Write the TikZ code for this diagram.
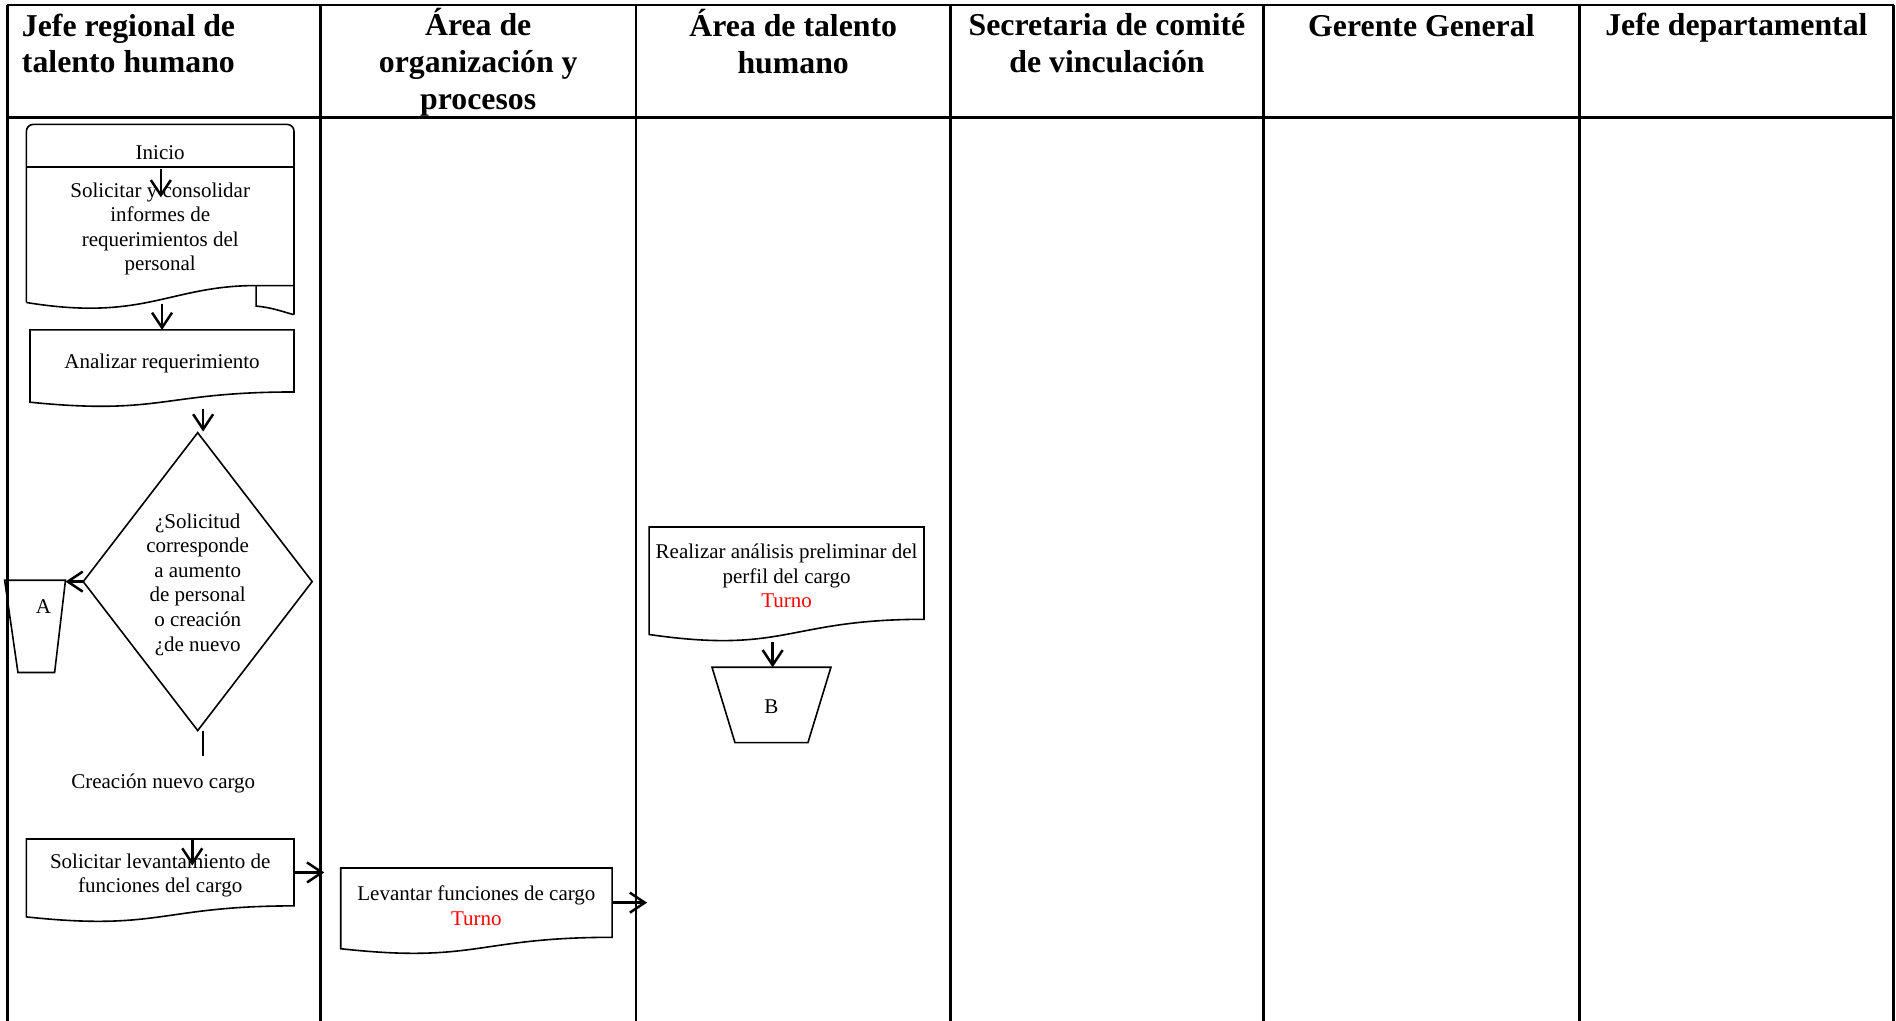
\documentclass[tikz,border=0pt]{standalone}
\usepackage{fontspec}
\setmainfont{Liberation Serif}
\usetikzlibrary{arrows.meta,calc}

% document symbol: flat top, wavy bottom below the text region of node #1
\newcommand\docwave[1]{%
  \draw[shapeline] (#1.north west) -- (#1.north east) -- (#1.south east)
    .. controls (#1.south) and ($(#1.south)!-0.38!(#1.north)$)
    .. ($(#1.south west)!-0.1646!(#1.north west)$) -- cycle;}
% extra room above the first text line of a shape
\newcommand\tp[1][20.3pt]{\rule{0pt}{#1}}

\begin{document}
\begin{tikzpicture}[x=1.2092pt,y=-1.2092pt,
  lane/.style={line width=2.6pt},
  shapeline/.style={line width=1.6pt},
  arr/.style={line width=2.5pt,-{Straight Barb[length=15pt,width=20pt,line width=2.5pt]}},
  head/.style={font=\fontsize{31.8}{36.9}\selectfont\bfseries,inner sep=0pt,align=center},
  body/.style={font=\fontsize{21}{24.6}\selectfont,inner sep=0pt,align=center},
  region/.style n args={2}{minimum width={#1*1.2092pt},minimum height={#2*1.2092pt},inner sep=0pt}]

\useasboundingbox (0,0) rectangle (1568,844.35);

% swimlane table
\foreach \x in {6,265,526,786,1045,1306,1566}
  \draw[lane] (\x,4) -- (\x,844.35);
\draw[lane] (6,4) -- (1566,4);
\draw[lane] (6,97) -- (1566,97);

% lane headers
\node[head,align=left,anchor=west] (h1) at (18,36) {Jefe regional de\\talento humano};
\node[head] (h2) at (395.5,51.5) {Área de\\organización y\\procesos};
\node[head] (h3) at (656,34) {Área de talento\\humano};
\node[head] (h4) at (915.5,36) {Secretaria de comité\\de vinculación};
\node[head] (h5) at (1175.5,21) {Gerente General};
\node[head] (h6) at (1436,23) {Jefe departamental};

% start terminal joined to the first document
\node[body,region={221}{35}] (inicio) at (132.5,120.5) {\tp[27pt]Inicio};
\node[body,region={221}{98}] (soldoc) at (132.5,187)
  {\tp Solicitar y consolidar\\informes de\\requerimientos del\\personal};
\coordinate (sw) at (soldoc.south west);
\draw[shapeline,rounded corners=7pt] ($(sw)+(0,14)$) -- (inicio.north west)
  -- (inicio.north east) -- ($(soldoc.south east)+(0,24)$);
\draw[shapeline] (inicio.south west) -- (inicio.south east);
\draw[shapeline] (soldoc.south east) -- ($(sw)+(190,0)$)
  .. controls ($(sw)+(118,0)$) and ($(sw)+(98,30)$) .. ($(sw)+(0,14)$);
\draw[shapeline] ($(sw)+(190,0)$) -- ($(sw)+(190,17)$)
  .. controls ($(sw)+(203,18)$) and ($(sw)+(213,22)$) .. ($(sw)+(221,24)$);

% process documents
\node[body,region={218}{51}] (analizar) at (134,298.5) {\tp Analizar requerimiento};
\docwave{analizar}
\node[body,region={221}{55}] (lev1) at (132.5,721.5)
  {\tp Solicitar levantamiento de\\funciones del cargo};
\docwave{lev1}
\node[body,region={224}{57}] (lev2) at (394,746.5)
  {\tp Levantar funciones de cargo\\\textcolor{red}{Turno}};
\docwave{lev2}
\node[body,region={227}{76}] (realizar) at (650.5,474)
  {\tp Realizar análisis preliminar del\\perfil del cargo\\\textcolor{red}{Turno}};
\docwave{realizar}

% decision
\node[body,region={189}{246}] (decision) at (163.5,481)
  {\tp ¿Solicitud\\corresponde\\a aumento\\de personal\\o creación\\¿de nuevo};
\draw[shapeline] (decision.north) -- (decision.east) -- (decision.south)
  -- (decision.west) -- cycle;
\node[body] (creacion) at (135,645.5) {\tp Creación nuevo cargo};

% off-page connectors
\node[body,region={50}{76}] (conA) at (29,518) {};
\draw[shapeline] (conA.north west) -- (conA.north east) -- ($(conA.south east)+(-9,0)$)
  -- ($(conA.south west)+(11,0)$) -- cycle;
\node[body] (conAtext) at ($(conA.center)+(7,-19)$) {\tp A};
\node[body,region={98}{62}] (conB) at (638,583) {\tp[17pt]B};
\draw[shapeline] (conB.north west) -- (conB.north east) -- ($(conB.south east)+(-19,0)$)
  -- ($(conB.south west)+(19,0)$) -- cycle;

% connectors
\draw[arr] ($(inicio.south)+(0.5,2)$) -- ($(inicio.south)+(0.5,25)$);
\coordinate (sdb) at ($(soldoc.south)+(0,15)$);
\draw[arr] (analizar.north |- sdb) -- (analizar.north);
\draw[arr] ($(decision.north)+(4.5,-20)$) -- ($(decision.north)+(4.5,-1)$);
\draw[arr] (decision.west) -- (decision.west -| conA.east);
\draw[shapeline] ($(decision.south)+(4.5,0)$) -- ($(decision.south)+(4.5,21)$);
\draw[arr] ($(lev1.north)+(26.5,0)$) -- ($(lev1.north)+(26.5,22)$);
\draw[arr] (lev1.east) -- ($(lev1.east)+(25,0)$);
\draw[arr] (lev2.east) -- ($(lev2.east)+(29,0)$);
\draw[arr] ($(conB.north)+(1,-21)$) -- ($(conB.north)+(1,0)$);
\end{tikzpicture}
\end{document}
